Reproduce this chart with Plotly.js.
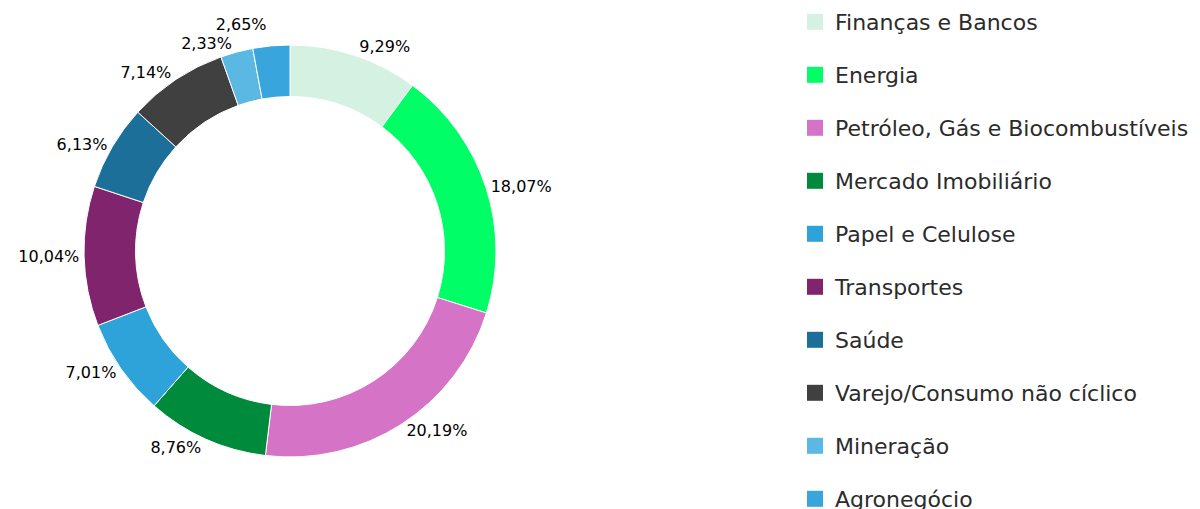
<!DOCTYPE html>
<html>
<head>
<meta charset="utf-8">
<script src="https://cdn.plot.ly/plotly-3.0.1.min.js"></script>
<style>html,body{margin:0;padding:0;background:#fff;}#chart{width:1200px;height:509px;}
#chart path.textline{display:none;}</style>
</head>
<body>
<div id="chart"></div>
<script>
const categories = ["Finanças e Bancos","Energia","Petróleo, Gás e Biocombustíveis","Mercado Imobiliário","Papel e Celulose","Transportes","Saúde","Varejo/Consumo não cíclico","Mineração","Agronegócio"];
const values = [9.29, 18.07, 20.19, 8.76, 7.01, 10.04, 6.13, 7.14, 2.33, 2.65];
const valueLabels = ["9,29%","18,07%","20,19%","8,76%","7,01%","10,04%","6,13%","7,14%","2,33%","2,65%"];
const colors = ["#d5f1e1","#00ff66","#d574c6","#008a3b","#2ea3da","#80246e","#1b6f98","#404040","#5ab8e2","#38a6dc"];

const LEGEND_FONT = "'DejaVu Sans', sans-serif";
const LABEL_FONT = "'DejaVu Sans', sans-serif";

const traces = [{
  type: 'pie',
  labels: categories,
  values: values,
  text: valueLabels,
  textinfo: 'text',
  textposition: 'outside',
  outsidetextfont: {family: LABEL_FONT, size: 16, color: '#000000'},
  hoverinfo: 'label+text',
  sort: false,
  direction: 'clockwise',
  rotation: 0,
  hole: 0.75,
  marker: {colors: colors, line: {color: '#ffffff', width: 1}},
  domain: {x: [84/1200, 496/1200], y: [52/509, 464/509]},
  showlegend: false
}];

categories.forEach((c, i) => {
  traces.push({
    type: 'scatter',
    mode: 'markers',
    x: [null], y: [null],
    name: c,
    legendgroup: 'g' + i,
    marker: {symbol: 'square', size: 16, color: colors[i]},
    showlegend: true,
    hoverinfo: 'skip'
  });
});

const layout = {
  width: 1200, height: 509,
  margin: {l: 0, r: 0, t: 0, b: 0, autoexpand: false},
  paper_bgcolor: '#ffffff',
  plot_bgcolor: 'rgba(0,0,0,0)',
  xaxis: {visible: false},
  yaxis: {visible: false},
  showlegend: true,
  legend: {
    x: 795/1200, xanchor: 'left',
    y: 1 - 1/509, yanchor: 'top',
    font: {family: LEGEND_FONT, size: 22, color: '#2b2b2b'},
    tracegroupgap: 21.4,
    itemsizing: 'trace',
    maxheight: 2000,
    bgcolor: 'rgba(0,0,0,0)'
  }
};

Plotly.newPlot('chart', traces, layout, {displayModeBar: false, staticPlot: true});
</script>
</body>
</html>
